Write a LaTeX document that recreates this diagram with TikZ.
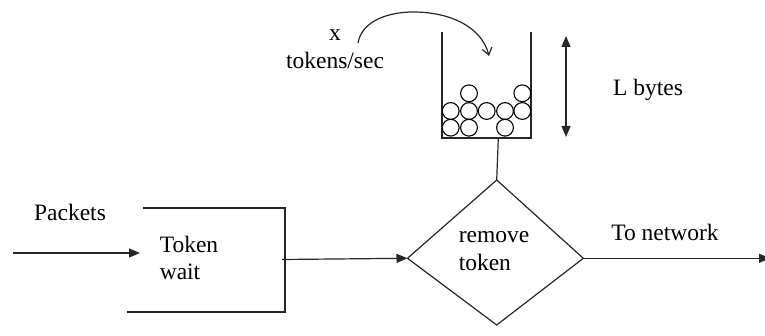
\documentclass[tikz,border=0pt]{standalone}
\usepackage{fontspec}
\setmainfont{Liberation Serif}
\usetikzlibrary{shapes.geometric,arrows.meta}
\begin{document}
\begin{tikzpicture}[x=1pt,y=-1pt,
  lbl/.style={font=\fontsize{23.5}{27.5}\selectfont, inner sep=0pt, align=left},
  ln/.style={line width=1.2pt, draw=black!85},
  arr/.style={ln, -{Triangle[length=11pt,width=9pt]}},
  tok/.style={line width=1.1pt}]
\useasboundingbox (0,0) rectangle (765,336);
% labels
\node[lbl] (pk) at (70,212) {Packets};
\node[lbl] (tw) at (189,258) {Token\\wait};
\node[lbl, align=center] (rate) at (335,49) {x\\tokens/sec};
\node[lbl] (lb) at (648,90) {L bytes};
\node[lbl] (net) at (665,232) {To network};
% diamond
\coordinate (dt) at (496.7,180);
\coordinate (dl) at (407.5,258.3);
\coordinate (db) at (496.7,325);
\coordinate (dr) at (583.3,258.3);
\draw[ln, line join=miter] (dt) -- (dr) -- (db) -- (dl) -- cycle;
\node[lbl] (rm) at (494,251) {remove\\token};
% box (open at left)
\coordinate (bt1) at (143,208);
\coordinate (bt2) at (285,208);
\coordinate (bb2) at (285,312);
\coordinate (bb1) at (127,312);
\draw[ln] (bt1) -- (bt2) -- (bb2) -- (bb1);
% input arrow
\coordinate (in) at (13,253);
\coordinate (inend) at (140,253);
\draw[arr] (in) -- (inend);
% to diamond
\coordinate (out) at (282,259.5);
\draw[arr] (out) -- (dl);
% to network
\coordinate (netend) at (770,258.3);
\draw[arr] (dr) -- (netend);
% bucket
\coordinate (bkl) at (442,32);
\coordinate (bkbl) at (442,138);
\coordinate (bkbr) at (531,138);
\coordinate (bkr) at (531,32);
\draw[ln] (bkl) -- (bkbl) -- (bkbr) -- (bkr);
\coordinate (bkout) at (498.3,138);
\draw[ln] (bkout) -- (dt);
% tokens
\foreach \cx/\cy in {469/93.3, 522.3/93.3, 450.7/111, 469/111, 486.7/111, 505/111, 522.3/111, 450.7/127.7, 469/127.7, 505/127.7}
  \draw[tok] (\cx,\cy) circle (8.4);
% double arrow
\coordinate (la) at (566,36);
\coordinate (lbt) at (566,137);
\draw[ln, {Triangle[length=11pt,width=9pt]}-{Triangle[length=11pt,width=9pt]}] (la) -- (lbt);
% curved arrow
\coordinate (cs) at (358,43);
\coordinate (cm) at (413,12);
\coordinate (ce) at (489,56);
\draw[ln, -{Straight Barb[length=7pt,width=10pt]}] (cs) .. controls (362,20) and (390,12) .. (cm) .. controls (452,12) and (482,28) .. (ce);
\end{tikzpicture}
\end{document}
